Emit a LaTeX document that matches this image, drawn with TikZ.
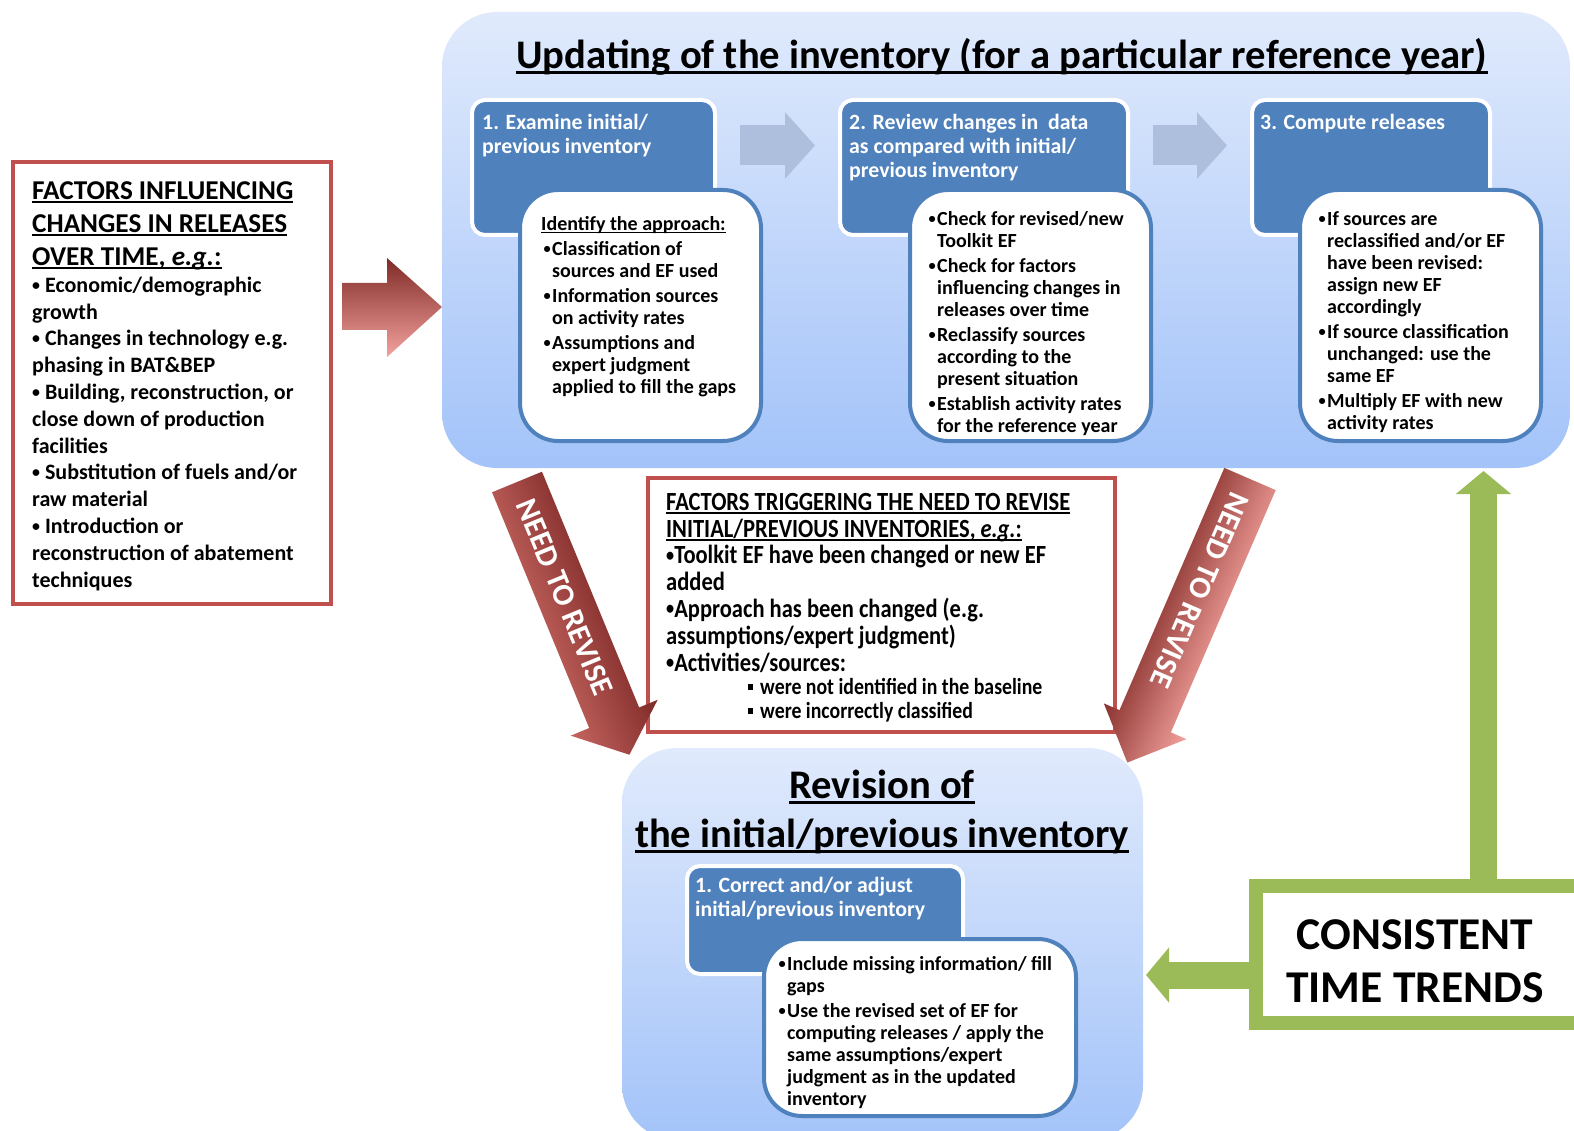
\documentclass[tikz,border=0pt]{standalone}
\usepackage{fontspec}
\usepackage{graphicx}
\setmainfont{Carlito}
\newfontfamily\condf[FakeStretch=0.86]{Carlito}
\usetikzlibrary{arrows.meta,calc}
\definecolor{stepblue}{HTML}{4F81BD}
\definecolor{redb}{HTML}{C0504D}
\definecolor{greenb}{HTML}{9BBB59}
\definecolor{grayarr}{HTML}{ADBFDC}
\definecolor{ptop}{RGB}{224,234,252}
\definecolor{pbot}{RGB}{163,195,249}
\definecolor{rdark}{HTML}{7E2A27}
\definecolor{rmid}{HTML}{B04A46}
\definecolor{rlight}{HTML}{F4A29D}
\newcommand\tsx{\rule{0pt}{0.85em}}
\newcommand\ulx[1]{\setbox0\hbox{#1}\rlap{\rule[-0.15em]{\wd0}{0.07em}}\box0}
\newcommand\sqb{\llap{\rule[0.2em]{5pt}{5.5pt}\hspace{7pt}}}
\newcommand\bul{\raisebox{0.1em}{\scalebox{0.72}{•}}}
\newcommand\lbul{\llap{\bul\hspace{1.5pt}}}
\begin{document}
\begin{tikzpicture}[x=1pt,y=-1pt,
  panel/.style={rounded corners=55pt, top color=ptop, bottom color=pbot, inner sep=0pt},
  stepbox/.style={draw=white, line width=4pt, fill=stepblue, rounded corners=13pt, inner sep=0pt},
  whitebox/.style={draw=stepblue, line width=4pt, fill=white, rounded corners=38pt, inner sep=0pt},
  redbox/.style={draw=redb, line width=4pt, fill=white, inner sep=0pt},
  txt/.style={anchor=north west, inner sep=0pt, align=left},
  stept/.style={txt, text=white, font=\bfseries\fontsize{21.8}{24}\selectfont},
  wt/.style={txt, font=\bfseries\fontsize{20}{22}\selectfont},
  grayarrow/.style={draw=grayarr, line width=40pt, -{Triangle[length=30pt,width=65pt]}},
  garrow/.style={draw=greenb, line width=27pt, -{Triangle[length=23pt,width=54pt]}},
  ntr/.style={text=white, font=\bfseries\fontsize{31}{31}\selectfont, inner sep=0pt}
]
\useasboundingbox (0,0) rectangle (1574,1131);
\fill[white] (0,0) rectangle (1574,1131);

% ---------- top panel ----------
\node[panel, minimum width=1128pt, minimum height=456pt] (upd) at (1006,240) {};
\node[anchor=north, inner sep=0pt, font=\bfseries\fontsize{40.6}{48}\selectfont] (updt) at (1002,33.5)
  {\tsx\ulx{Updating of the inventory (for a particular reference year)}};

\node[stepbox, minimum width=243pt, minimum height=135pt] (s1) at (593.5,167.5) {};
\node[stepbox, minimum width=288pt, minimum height=135pt] (s2) at (984,167.5) {};
\node[stepbox, minimum width=238pt, minimum height=135pt] (s3) at (1371,167.5) {};
\draw[grayarrow] ([shift={(23,-22)}]s1.east) -- ([shift={(-23,-22)}]s2.west);
\draw[grayarrow] ([shift={(23,-22)}]s2.east) -- ([shift={(-23,-22)}]s3.west);

\node[stept] (s1t) at (482,110.5) {\tsx 1. Examine initial/\\previous inventory};
\node[stept] (s2t) at (849,110.5) {\tsx 2. Review changes in\ \ data\\as compared with initial/\\previous inventory};
\node[stept] (s3t) at (1260,110.5) {\tsx 3. Compute releases};

\node[whitebox, minimum width=241pt, minimum height=251pt] (w1) at (640.5,315.5) {};
\node[whitebox, minimum width=241pt, minimum height=251pt] (w2) at (1030.5,315.5) {};
\node[whitebox, minimum width=241pt, minimum height=251pt] (w3) at (1420.5,315.5) {};

\node[wt] (w1t) at (552,213) {\tsx\hspace*{-11pt}\ulx{Identify the approach:}\\[3pt]
\lbul Classification of\\
sources and EF used\\[3pt]
\lbul Information sources\\
on activity rates\\[3pt]
\lbul Assumptions and\\
expert judgment\\
applied to fill the gaps};

\node[wt] (w2t) at (937,208) {\tsx\lbul Check for revised/new\\
Toolkit EF\\[3pt]
\lbul Check for factors\\
influencing changes in\\
releases over time\\[3pt]
\lbul Reclassify sources\\
according to the\\
present situation\\[3pt]
\lbul Establish activity rates\\
for the reference year};

\node[wt] (w3t) at (1327,208) {\tsx\lbul If sources are\\
reclassified and/or EF\\
have been revised:\\
assign new EF\\
accordingly\\[3pt]
\lbul If source classification\\
unchanged: use the\\
same EF\\[3pt]
\lbul Multiply EF with new\\
activity rates};

% ---------- left factors box ----------
\node[redbox, minimum width=318pt, minimum height=442pt] (fac) at (172,383) {};
\node[txt, font=\bfseries\fontsize{27.2}{33}\selectfont] (fact) at (32,176)
  {\tsx\ulx{FACTORS INFLUENCING}\\\ulx{CHANGES IN RELEASES}\\\ulx{OVER TIME, \textit{e.g.}:}};
\node[txt, font=\bfseries\fontsize{22}{26.8}\selectfont] (facb) at (32,273.3)
  {\tsx\bul\ Economic/demographic\\growth\\\bul\ Changes in technology e.g.\\phasing in BAT\&BEP\\\bul\ Building, reconstruction, or\\close down of production\\facilities\\\bul\ Substitution of fuels and/or\\raw material\\\bul\ Introduction or\\reconstruction of abatement\\techniques};

\shade[top color=rdark, middle color=rmid, bottom color=rlight]
  (342,283) -- (387,283) -- (387,258) -- (442,307) -- (387,357) -- (387,330) -- (342,330) -- cycle;

% ---------- middle triggers box ----------
\node[redbox, minimum width=467pt, minimum height=254pt] (trig) at (881.5,605) {};
\node[txt, font=\condf\bfseries\fontsize{26.2}{26.8}\selectfont] (trigt) at (666,487.9)
  {\tsx\ulx{FACTORS TRIGGERING THE NEED TO REVISE}\\
   \ulx{INITIAL/PREVIOUS INVENTORIES, \textit{e.g.}:}\\
   \bul Toolkit EF have been changed or new EF\\
   added\\
   \bul Approach has been changed (e.g.\\
   assumptions/expert judgment)\\
   \bul Activities/sources:};
\node[txt, font=\condf\bfseries\fontsize{23}{24}\selectfont] (trigs) at (760,674.5)
  {\tsx\sqb were not identified in the baseline\\\sqb were incorrectly classified};

% ---------- bottom panel ----------
\node[panel, minimum width=521pt, minimum height=392pt] (rev) at (882.5,944) {};
\node[anchor=north, align=center, inner sep=0pt, font=\bfseries\fontsize{40.6}{49}\selectfont] (revt) at (882,763.5)
  {\tsx\ulx{Revision of}\\\ulx{the initial/previous inventory}};
\node[stepbox, minimum width=276pt, minimum height=108pt] (sb) at (825,920) {};
\node[stept] (sbt) at (695,873.5) {\tsx 1. Correct and/or adjust\\initial/previous inventory};
\node[whitebox, minimum width=312pt, minimum height=177pt] (wb) at (920,1027.5) {};
\node[wt] (wbt) at (787,953) {\tsx\lbul Include missing information/ fill\\
gaps\\[3pt]
\lbul Use the revised set of EF for\\
computing releases / apply the\\
same assumptions/expert\\
judgment as in the updated\\
inventory};

% ---------- need to revise arrows ----------
\begin{scope}[transform canvas={shift={(517,482)},rotate=-67.6}]
  \shade[top color=rdark, middle color=rmid, bottom color=rmid!70!rlight]
    (0,-27) -- (255,-27) -- (255,-47) -- (295,0) -- (255,47) -- (255,27) -- (0,27) -- cycle;
  \node[ntr] (ntr1) at (125,0) {NEED TO REVISE};
\end{scope}
\begin{scope}[transform canvas={shift={(1250,479)},rotate=-113.4}]
  \shade[top color=rlight, middle color=rmid, bottom color=rdark!80!rmid]
    (0,-28) -- (264,-28) -- (264,-45) -- (309,0) -- (264,45) -- (264,28) -- (0,28) -- cycle;
  \node[ntr] (ntr2) at (122,2) {NEED TO REVISE};
\end{scope}

% ---------- consistent time trends ----------
\node[draw=greenb, line width=14pt, fill=white, minimum width=344pt, minimum height=137pt, inner sep=0pt] (ctt) at (1428,954.5) {};
\node[anchor=north, align=center, inner sep=0pt, font=\bfseries\fontsize{45.5}{53}\selectfont] (cttt) at (1415,910.3)
  {\tsx CONSISTENT\\TIME TRENDS};
\coordinate (gu) at (1483.5,471);
\draw[garrow] (gu |- ctt.north) -- (gu);
\coordinate (gl) at (1146,975);
\draw[garrow] (gl -| ctt.west) -- (gl);
\end{tikzpicture}
\end{document}
